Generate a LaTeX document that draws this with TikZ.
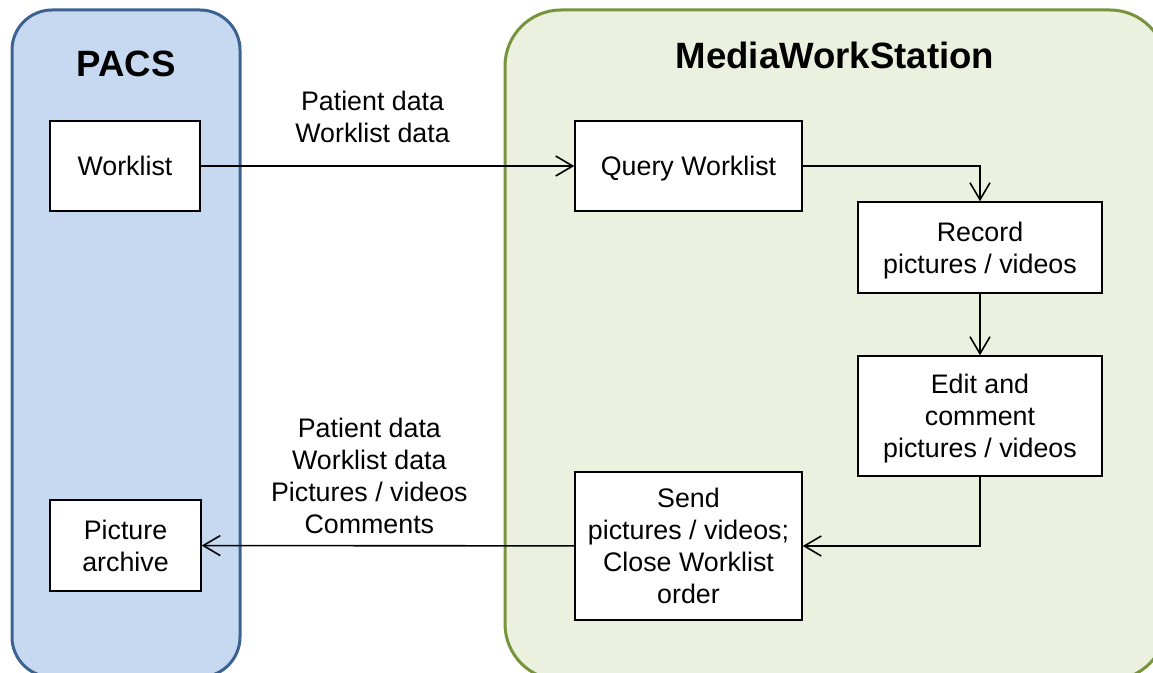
\documentclass[tikz,border=0pt]{standalone}
\usepackage{fontspec}
\setmainfont{Liberation Sans}
\usetikzlibrary{arrows.meta, positioning}
\definecolor{pacsfill}{HTML}{C6D9F1}
\definecolor{pacsline}{HTML}{3C6291}
\definecolor{mwsfill}{HTML}{EBF1DE}
\definecolor{mwsline}{HTML}{77933C}
\tikzset{
  box/.style={draw, fill=white, line width=0.7pt, align=center, inner sep=3pt,
    text depth=0pt, font=\fontsize{13.4}{16}\selectfont},
  lbl/.style={align=center, font=\fontsize{13.4}{16}\selectfont},
  title/.style={font=\fontsize{18.3}{22}\selectfont\bfseries},
  flow/.style={->, line width=0.8pt},
}
\begin{document}
\begin{tikzpicture}[x=0.5pt,y=-0.5pt,>={Straight Barb[length=8.5pt,width=10pt]}]
\useasboundingbox (0,0) rectangle (1153,673);
\clip (0,0) rectangle (1153,673);
% the two systems
\draw[pacsline, fill=pacsfill, line width=1.5pt, rounded corners=20pt] (12,10) rectangle (240,677);
\draw[mwsline, fill=mwsfill, line width=1.5pt, rounded corners=28pt] (505,10) rectangle (1166,680);
\node[title] (pacs) at (126,64) {PACS};
\node[title] (mws) at (835,55) {MediaWorkStation};
% PACS side
\node[box, minimum width=75pt, minimum height=45pt] (worklist) at (125,166) {Worklist};
\node[box, minimum width=75.5pt, minimum height=45.5pt] (archive) at (125.5,545.5) {Picture\\archive};
% workstation side
\node[box, minimum width=113.5pt, minimum height=45pt] (query) at (688.5,166) {Query Worklist};
\node[box, minimum width=122pt, minimum height=45.5pt] (record) at (980,247.5) {Record\\pictures / videos};
\node[box, minimum width=122pt, minimum height=60pt] (edit) at (980,416) {Edit and\\comment\\pictures / videos};
\node[box, minimum width=113.5pt, minimum height=74pt] (send) at (688.5,546) {Send\\pictures / videos;\\Close Worklist\\order};
% data flow
\draw[flow] (worklist) -- node[lbl, above=7.7pt, pos=0.46] {Patient data\\Worklist data} (query);
\draw[flow] (query) -| (record);
\draw[flow] (record) -- (edit);
\draw[flow] (edit) |- (send);
\draw[flow] (send) -- node[lbl, above=2.2pt, pos=0.55] {Patient data\\Worklist data\\Pictures / videos\\Comments} (archive);
\end{tikzpicture}
\end{document}
